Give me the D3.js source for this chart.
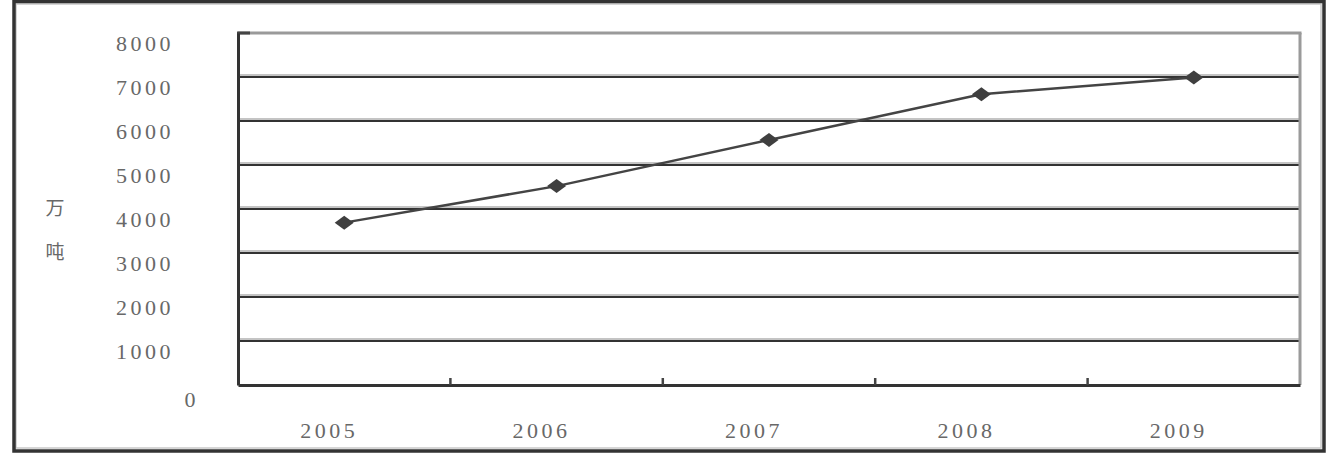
<!DOCTYPE html>
<html><head><meta charset="utf-8">
<script src="https://cdn.jsdelivr.net/npm/d3@7"></script>
<style>html,body{margin:0;padding:0;background:#fff;overflow:hidden}</style>
</head><body>
<script>
const years = ["2005","2006","2007","2008","2009"];
const values = [3690, 4520, 5570, 6610, 6990];
const yTicks = [0,1000,2000,3000,4000,5000,6000,7000,8000];
const yUnit = ["万","吨"];

const W = 1342, H = 461;
const svg = d3.select("body").append("svg").attr("width", W).attr("height", H);
svg.append("rect").attr("width", W).attr("height", H).attr("fill", "#fff");

// outer frame
svg.append("rect").attr("x", 16).attr("y", 4).attr("width", 1305).attr("height", 444)
  .attr("fill", "none").attr("stroke", "#c8c8c8").attr("stroke-width", 1.5);
svg.append("rect").attr("x", 14).attr("y", 1.5).attr("width", 1310).attr("height", 449.5)
  .attr("fill", "none").attr("stroke", "#333").attr("stroke-width", 3.5);

const L = 238, R = 1300, T = 33, B = 385;
const x = d3.scaleBand().domain(years).range([L, R]);
const y = d3.scaleLinear().domain([0, 8000]).range([B, T]);

// gridlines
const gridTicks = yTicks.filter(v => v > 0 && v < 8000);
const g = svg.append("g");
g.selectAll("line.sh").data(gridTicks).join("line")
  .attr("x1", L).attr("x2", R).attr("y1", d => y(d) - 2).attr("y2", d => y(d) - 2)
  .attr("stroke", "#b0b0b0").attr("stroke-width", 1.5);
g.selectAll("line.gl").data(gridTicks).join("line")
  .attr("x1", L).attr("x2", R).attr("y1", d => y(d)).attr("y2", d => y(d))
  .attr("stroke", "#333").attr("stroke-width", 2.2);

// top & right border (gray)
svg.append("line").attr("x1", L).attr("x2", R + 1.5).attr("y1", T).attr("y2", T)
  .attr("stroke", "#9a9a9a").attr("stroke-width", 3);
svg.append("line").attr("x1", R).attr("x2", R).attr("y1", T).attr("y2", B)
  .attr("stroke", "#9a9a9a").attr("stroke-width", 3);
svg.append("line").attr("x1", L - 1).attr("x2", L + 12).attr("y1", T).attr("y2", T)
  .attr("stroke", "#444").attr("stroke-width", 3);

// y axis
const yAxis = d3.axisLeft(y).tickValues(yTicks).tickSize(0).tickPadding(0).tickFormat(d3.format("d"));
const ya = svg.append("g").attr("transform", `translate(${L},0)`).call(yAxis);
ya.select(".domain").attr("stroke", "#333").attr("stroke-width", 3);
ya.selectAll("text")
  .attr("x", -64).attr("dy", "0.36em")
  .attr("transform", d => `translate(0,${d === 0 ? 14 : 10})`)
  .attr("font-family", "'Liberation Serif', serif").attr("font-size", 22)
  .attr("letter-spacing", 3.5).attr("fill", "#686868").attr("text-anchor", "end");
ya.selectAll("text").filter(d => d === 0).attr("x", -39);

// x axis
const xAxis = d3.axisBottom(x).tickSize(0).tickPadding(0);
const xa = svg.append("g").attr("transform", `translate(0,${B})`).call(xAxis);
xa.select(".domain").attr("stroke", "#333").attr("stroke-width", 3);
xa.selectAll("text")
  .attr("y", 45).attr("dx", -15).attr("dy", "0.36em")
  .attr("font-family", "'Liberation Serif', serif").attr("font-size", 22)
  .attr("letter-spacing", 3.5).attr("fill", "#686868");
// inner ticks at band boundaries
const bounds = years.slice(1).map(d => x(d));
svg.selectAll("line.tk").data(bounds).join("line")
  .attr("x1", d => d).attr("x2", d => d).attr("y1", B - 7).attr("y2", B)
  .attr("stroke", "#444").attr("stroke-width", 2.5);

// unit label
svg.selectAll("text.unit").data(yUnit).join("text")
  .attr("x", 55).attr("y", (d, i) => 208 + i * 44).attr("dy", "0.36em")
  .attr("text-anchor", "middle")
  .attr("font-family", "'Noto Sans CJK SC', sans-serif").attr("font-size", 19)
  .attr("fill", "#686868").text(d => d);

// line
const data = years.map((d, i) => ({ year: d, v: values[i] }));
const cx = d => x(d.year) + x.bandwidth() / 2;
svg.append("path").datum(data)
  .attr("d", d3.line().x(cx).y(d => y(d.v)))
  .attr("fill", "none").attr("stroke", "#444").attr("stroke-width", 2.5);
svg.selectAll("path.mk").data(data).join("path")
  .attr("d", "M-9.5,0L0,-7L9.5,0L0,7Z")
  .attr("transform", d => `translate(${cx(d)},${y(d.v)})`)
  .attr("fill", "#3f3f3f");
</script>
</body></html>
